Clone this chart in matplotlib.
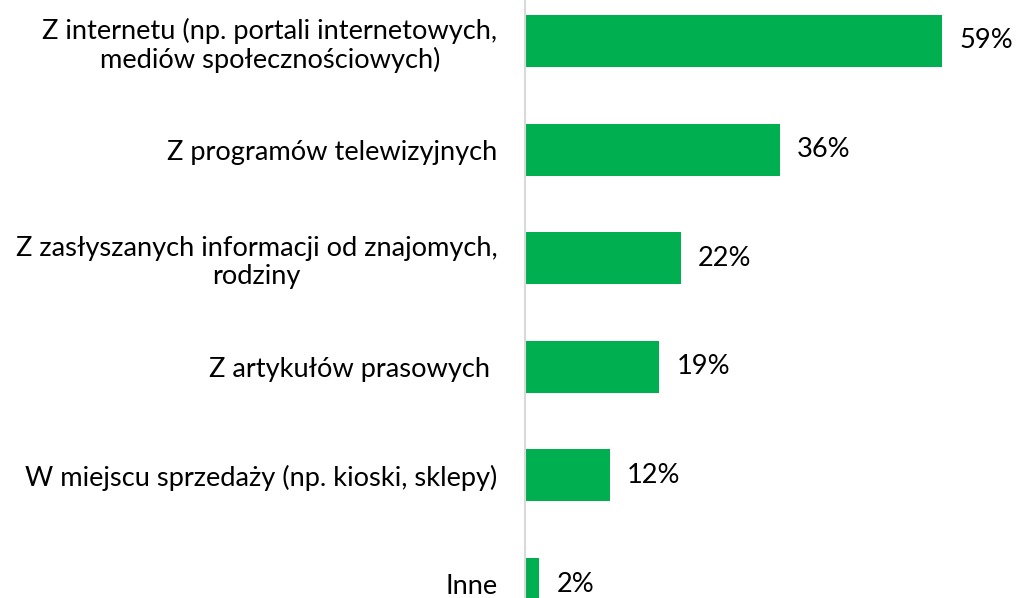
import numpy as np
import matplotlib.pyplot as plt

plt.rcParams['font.family'] = ['Lato', 'DejaVu Sans']

# data
categories = ['Z internetu (np. portali internetowych,\nmediów społecznościowych)',
              'Z programów telewizyjnych',
              'Z zasłyszanych informacji od znajomych,\nrodziny',
              'Z artykułów prasowych ',
              'W miejscu sprzedaży (np. kioski, sklepy)',
              'Inne']
values = [59, 36, 22, 19, 12, 2]

green = '#00B050'
fs = 19.6

fig = plt.figure(figsize=(10.19, 5.98), dpi=100)
ax = fig.add_axes([525/1019, 0, 1 - 525/1019, 1])

y = np.arange(len(values))
ax.barh(y, values, height=0.48, color=green)

for yi, v in zip(y, values):
    ax.annotate(f'{v}%', xy=(v, yi), xytext=(12.5, 0), textcoords='offset points',
                ha='left', va='center', fontsize=fs, color='#000000')

ax.set_xlim(0, 494/7.07)
ax.set_ylim((598-41)/108.6, -41/108.6)
ax.set_yticks(y)
ax.set_yticklabels(categories, fontsize=fs, color='#000000',
                   multialignment='center', linespacing=1.15)
ax.tick_params(axis='y', length=0, pad=20)
ax.set_xticks([])

for s in ['top', 'right', 'bottom']:
    ax.spines[s].set_visible(False)
ax.spines['left'].set_color('#d9d9d9')
ax.spines['left'].set_linewidth(1.5)

fig.savefig('out.png', dpi=100)
